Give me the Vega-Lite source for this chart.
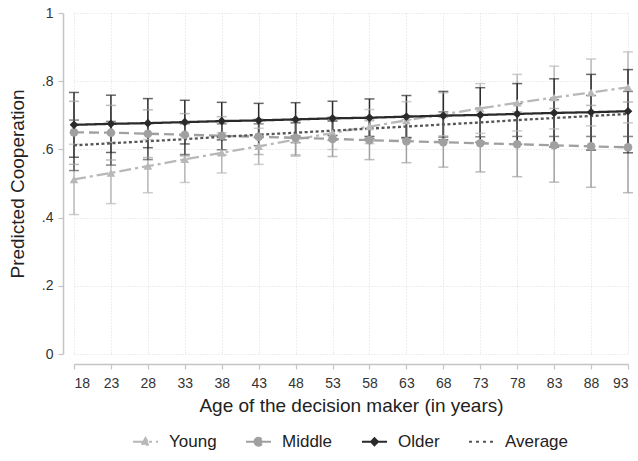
{
  "$schema": "https://vega.github.io/schema/vega-lite/v6.json",
  "width": 554,
  "height": 341,
  "autosize": {"type": "none"},
  "padding": {"left": 74, "top": 13, "right": 10, "bottom": 107},
  "background": "white",
  "data": {
    "values": [
      {"age": 18, "group": "Young", "est": 0.512, "lo": 0.409, "hi": 0.615},
      {"age": 23, "group": "Young", "est": 0.531, "lo": 0.441, "hi": 0.621},
      {"age": 28, "group": "Young", "est": 0.551, "lo": 0.473, "hi": 0.629},
      {"age": 33, "group": "Young", "est": 0.571, "lo": 0.503, "hi": 0.639},
      {"age": 38, "group": "Young", "est": 0.590, "lo": 0.531, "hi": 0.649},
      {"age": 43, "group": "Young", "est": 0.609, "lo": 0.556, "hi": 0.662},
      {"age": 48, "group": "Young", "est": 0.629, "lo": 0.580, "hi": 0.678},
      {"age": 53, "group": "Young", "est": 0.648, "lo": 0.600, "hi": 0.696},
      {"age": 58, "group": "Young", "est": 0.667, "lo": 0.617, "hi": 0.717},
      {"age": 63, "group": "Young", "est": 0.685, "lo": 0.630, "hi": 0.740},
      {"age": 68, "group": "Young", "est": 0.703, "lo": 0.640, "hi": 0.766},
      {"age": 73, "group": "Young", "est": 0.720, "lo": 0.647, "hi": 0.793},
      {"age": 78, "group": "Young", "est": 0.737, "lo": 0.654, "hi": 0.820},
      {"age": 83, "group": "Young", "est": 0.752, "lo": 0.660, "hi": 0.844},
      {"age": 88, "group": "Young", "est": 0.767, "lo": 0.669, "hi": 0.865},
      {"age": 93, "group": "Young", "est": 0.782, "lo": 0.678, "hi": 0.886},
      {"age": 18, "group": "Middle", "est": 0.650, "lo": 0.556, "hi": 0.741},
      {"age": 23, "group": "Middle", "est": 0.649, "lo": 0.569, "hi": 0.729},
      {"age": 28, "group": "Middle", "est": 0.646, "lo": 0.576, "hi": 0.716},
      {"age": 33, "group": "Middle", "est": 0.643, "lo": 0.581, "hi": 0.705},
      {"age": 38, "group": "Middle", "est": 0.640, "lo": 0.584, "hi": 0.696},
      {"age": 43, "group": "Middle", "est": 0.637, "lo": 0.585, "hi": 0.689},
      {"age": 48, "group": "Middle", "est": 0.634, "lo": 0.584, "hi": 0.684},
      {"age": 53, "group": "Middle", "est": 0.631, "lo": 0.579, "hi": 0.683},
      {"age": 58, "group": "Middle", "est": 0.627, "lo": 0.570, "hi": 0.684},
      {"age": 63, "group": "Middle", "est": 0.624, "lo": 0.561, "hi": 0.687},
      {"age": 68, "group": "Middle", "est": 0.621, "lo": 0.548, "hi": 0.694},
      {"age": 73, "group": "Middle", "est": 0.618, "lo": 0.534, "hi": 0.702},
      {"age": 78, "group": "Middle", "est": 0.615, "lo": 0.520, "hi": 0.710},
      {"age": 83, "group": "Middle", "est": 0.612, "lo": 0.504, "hi": 0.720},
      {"age": 88, "group": "Middle", "est": 0.609, "lo": 0.489, "hi": 0.729},
      {"age": 93, "group": "Middle", "est": 0.606, "lo": 0.473, "hi": 0.739},
      {"age": 18, "group": "Older", "est": 0.672, "lo": 0.577, "hi": 0.767},
      {"age": 23, "group": "Older", "est": 0.675, "lo": 0.591, "hi": 0.759},
      {"age": 28, "group": "Older", "est": 0.677, "lo": 0.605, "hi": 0.749},
      {"age": 33, "group": "Older", "est": 0.680, "lo": 0.616, "hi": 0.744},
      {"age": 38, "group": "Older", "est": 0.683, "lo": 0.628, "hi": 0.738},
      {"age": 43, "group": "Older", "est": 0.685, "lo": 0.635, "hi": 0.735},
      {"age": 48, "group": "Older", "est": 0.688, "lo": 0.639, "hi": 0.737},
      {"age": 53, "group": "Older", "est": 0.691, "lo": 0.641, "hi": 0.741},
      {"age": 58, "group": "Older", "est": 0.693, "lo": 0.638, "hi": 0.748},
      {"age": 63, "group": "Older", "est": 0.696, "lo": 0.634, "hi": 0.758},
      {"age": 68, "group": "Older", "est": 0.699, "lo": 0.628, "hi": 0.770},
      {"age": 73, "group": "Older", "est": 0.701, "lo": 0.621, "hi": 0.781},
      {"age": 78, "group": "Older", "est": 0.704, "lo": 0.615, "hi": 0.793},
      {"age": 83, "group": "Older", "est": 0.707, "lo": 0.607, "hi": 0.807},
      {"age": 88, "group": "Older", "est": 0.709, "lo": 0.598, "hi": 0.820},
      {"age": 93, "group": "Older", "est": 0.712, "lo": 0.590, "hi": 0.834},
      {"age": 18, "group": "Average", "est": 0.612, "lo": 0.538, "hi": 0.686},
      {"age": 23, "group": "Average", "est": 0.618, "lo": 0.554, "hi": 0.682},
      {"age": 28, "group": "Average", "est": 0.624, "lo": 0.570, "hi": 0.678},
      {"age": 33, "group": "Average", "est": 0.630, "lo": 0.585, "hi": 0.675},
      {"age": 38, "group": "Average", "est": 0.637, "lo": 0.599, "hi": 0.675},
      {"age": 43, "group": "Average", "est": 0.643, "lo": 0.611, "hi": 0.675},
      {"age": 48, "group": "Average", "est": 0.649, "lo": 0.620, "hi": 0.678},
      {"age": 53, "group": "Average", "est": 0.655, "lo": 0.627, "hi": 0.683},
      {"age": 58, "group": "Average", "est": 0.661, "lo": 0.632, "hi": 0.690},
      {"age": 63, "group": "Average", "est": 0.667, "lo": 0.635, "hi": 0.699},
      {"age": 68, "group": "Average", "est": 0.673, "lo": 0.636, "hi": 0.710},
      {"age": 73, "group": "Average", "est": 0.679, "lo": 0.637, "hi": 0.721},
      {"age": 78, "group": "Average", "est": 0.686, "lo": 0.638, "hi": 0.734},
      {"age": 83, "group": "Average", "est": 0.692, "lo": 0.638, "hi": 0.746},
      {"age": 88, "group": "Average", "est": 0.698, "lo": 0.638, "hi": 0.758},
      {"age": 93, "group": "Average", "est": 0.704, "lo": 0.638, "hi": 0.770}
    ]
  },
  "encoding": {
    "x": {
      "field": "age", "type": "quantitative",
      "scale": {"domain": [18, 93], "nice": false, "zero": false},
      "axis": {
        "title": "Age of the decision maker (in years)",
        "values": [18, 23, 28, 33, 38, 43, 48, 53, 58, 63, 68, 73, 78, 83, 88, 93],
        "offset": 10, "labelPadding": 7, "titlePadding": 6
      }
    },
    "color": {
      "field": "group", "type": "nominal",
      "scale": {
        "domain": ["Young", "Middle", "Older", "Average"],
        "range": ["#b8b8b8", "#a0a0a0", "#2a2a2a", "#555555"]
      },
      "legend": {
        "title": null, "orient": "none", "direction": "horizontal",
        "legendX": 58, "legendY": 415,
        "symbolSize": 625, "symbolStrokeWidth": 2,
        "labelFontSize": 17, "labelColor": "#222222", "labelOffset": 10,
        "columnPadding": 25,
        "encode": {
          "symbols": {
            "update": {
              "shape": {"signal": "datum.value === 'Young' ? 'M-1,0H1M-0.3,0.24L0,-0.3L0.3,0.24Z' : datum.value === 'Middle' ? 'M-1,0H1M-0.32,0A0.32,0.32 0 1,0 0.32,0A0.32,0.32 0 1,0 -0.32,0Z' : datum.value === 'Older' ? 'M-1,0H1M0,-0.28L0.28,0L0,0.28L-0.28,0Z' : 'M-1,0H-0.72M-0.44,0H-0.16M0.12,0H0.4M0.68,0H0.96'"},
              "fill": {"signal": "scale('color', datum.value)"},
              "stroke": {"signal": "scale('color', datum.value)"},
              "strokeWidth": {"value": 2},
              "strokeDash": {"value": []},
              "opacity": {"value": 1}
            }
          }
        }
      }
    }
  },
  "layer": [
    {
      "mark": {"type": "rule", "strokeWidth": 1.5},
      "encoding": {
        "y": {"field": "lo", "type": "quantitative"},
        "y2": {"field": "hi"}
      }
    },
    {
      "mark": {"type": "tick", "orient": "horizontal", "size": 10, "thickness": 1.5},
      "encoding": {
        "y": {"field": "lo", "type": "quantitative"}
      }
    },
    {
      "mark": {"type": "tick", "orient": "horizontal", "size": 10, "thickness": 1.5},
      "encoding": {
        "y": {"field": "hi", "type": "quantitative"}
      }
    },
    {
      "mark": {"type": "line", "strokeWidth": 2.3},
      "encoding": {
        "y": {
          "field": "est", "type": "quantitative",
          "scale": {"domain": [0, 1], "nice": false},
          "axis": {
            "title": "Predicted Cooperation",
            "values": [0, 0.2, 0.4, 0.6, 0.8, 1],
            "offset": 11, "labelPadding": 5, "titlePadding": 14,
            "labelExpr": "datum.value == 0 ? '0' : datum.value == 1 ? '1' : replace(format(datum.value, '.1f'), '0.', '.')"
          }
        },
        "strokeDash": {
          "field": "group", "type": "nominal", "legend": null,
          "scale": {
            "domain": ["Young", "Middle", "Older", "Average"],
            "range": [[12, 4, 3, 4], [10, 5], [1, 0], [3, 2.5]]
          }
        }
      }
    },
    {
      "transform": [{"filter": "datum.group !== 'Average'"}],
      "mark": {"type": "point", "filled": true, "opacity": 1, "size": 75},
      "encoding": {
        "y": {"field": "est", "type": "quantitative"},
        "shape": {
          "field": "group", "type": "nominal", "legend": null,
          "scale": {"domain": ["Young", "Middle", "Older"], "range": ["triangle-up", "circle", "diamond"]}
        }
      }
    }
  ],
  "config": {
    "view": {"stroke": null},
    "font": "Liberation Sans",
    "axis": {
      "domainColor": "#c4c4c4", "domainWidth": 1.5,
      "tickColor": "#c4c4c4", "tickWidth": 1.2, "tickSize": 5,
      "labelFontSize": 14, "labelColor": "#333333",
      "titleFontSize": 19, "titleFontWeight": "normal", "titleColor": "#222222",
      "grid": true, "gridColor": "#dddddd", "gridDash": [1, 2], "gridWidth": 1
    },
    "legend": {"labelFont": "Liberation Sans"}
  }
}
